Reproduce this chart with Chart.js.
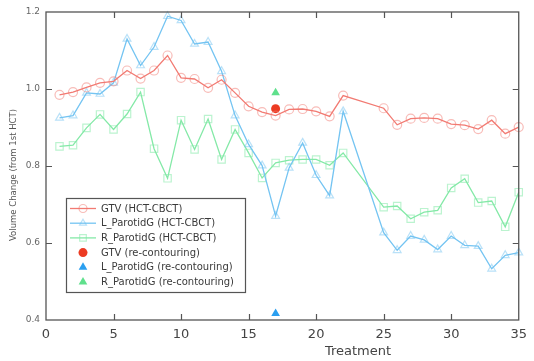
<!DOCTYPE html>
<html>
<head>
<meta charset="utf-8">
<script src="https://cdn.jsdelivr.net/npm/chart.js@4/dist/chart.umd.min.js"></script>
<style>
    html, body { margin: 0; padding: 0; background: #fff; }
    #wrap { width: 534px; height: 361px; }
</style>
</head>
<body>
<div id="wrap"><canvas id="volumeChart" width="534" height="361"></canvas></div>
<script>
// treatment fractions (no CBCT at 23, 24)
const treatments = [1, 2, 3, 4, 5, 6, 7, 8, 9, 10, 11, 12, 13, 14, 15, 16, 17, 18, 19, 20, 21, 22,
    25, 26, 27, 28, 29, 30, 31, 32, 33, 34, 35];

const gtv = [0.985, 0.992, 1.004, 1.016, 1.020, 1.048, 1.027, 1.048, 1.087, 1.029, 1.026, 1.003,
    1.024, 0.990, 0.955, 0.940, 0.931, 0.947, 0.948, 0.942, 0.929, 0.983,
    0.950, 0.907, 0.923, 0.925, 0.923, 0.909, 0.906, 0.896, 0.919, 0.884, 0.901];

const lParotid = [0.925, 0.931, 0.990, 0.987, 1.016, 1.130, 1.061, 1.109, 1.189, 1.178, 1.117, 1.122,
    1.046, 0.931, 0.856, 0.801, 0.670, 0.795, 0.860, 0.776, 0.723, 0.942,
    0.627, 0.581, 0.618, 0.608, 0.583, 0.618, 0.594, 0.592, 0.533, 0.568, 0.575];

const rParotid = [0.851, 0.854, 0.899, 0.934, 0.895, 0.935, 0.992, 0.845, 0.768, 0.919, 0.843, 0.922,
    0.817, 0.895, 0.834, 0.769, 0.808, 0.815, 0.817, 0.817, 0.802, 0.834,
    0.693, 0.696, 0.663, 0.680, 0.685, 0.743, 0.767, 0.705, 0.709, 0.642, 0.732];

// re-contouring at fraction 17
const recontourX = 17;
const gtvRecontour = 0.949;
const lParotidRecontour = 0.417;
const rParotidRecontour = 0.990;

const xTicks = [0, 5, 10, 15, 20, 25, 30, 35];
const yTicks = [0.4, 0.6, 0.8, 1.0, 1.2];

const FONT = '"DejaVu Sans", Verdana, sans-serif';

function toPoints(values) {
    return treatments.map((t, i) => ({ x: t, y: values[i] }));
}

const seriesStyles = [
    { label: 'GTV (HCT-CBCT)', line: '#f27a72', marker: 'rgba(242,122,114,0.5)', style: 'circle', radius: 4.5 },
    { label: 'L_ParotidG (HCT-CBCT)', line: '#74c4f2', marker: 'rgba(116,196,242,0.5)', style: 'triangle', radius: 4.5 },
    { label: 'R_ParotidG (HCT-CBCT)', line: '#84e9a7', marker: 'rgba(132,233,167,0.55)', style: 'rect', radius: 5.2 },
    { label: 'GTV (re-contouring)', fill: '#ec3b22', style: 'circle', radius: 4.5 },
    { label: 'L_ParotidG (re-contouring)', fill: '#2a9ff0', style: 'triangle', radius: 5 },
    { label: 'R_ParotidG (re-contouring)', fill: '#5fe08c', style: 'triangle', radius: 5 }
];

function lineDataset(idx, values) {
    const s = seriesStyles[idx];
    return {
        label: s.label,
        data: toPoints(values),
        borderColor: s.line,
        borderWidth: 1.3,
        pointStyle: s.style,
        pointRadius: s.radius,
        pointBorderColor: s.marker,
        pointBackgroundColor: 'rgba(0,0,0,0)',
        pointBorderWidth: 1.2,
        tension: 0,
        clip: false
    };
}

function markerDataset(idx, value) {
    const s = seriesStyles[idx];
    return {
        label: s.label,
        data: [{ x: recontourX, y: value }],
        showLine: false,
        pointStyle: s.style,
        pointRadius: s.radius,
        pointBackgroundColor: s.fill,
        pointBorderColor: s.fill,
        pointBorderWidth: 0,
        clip: false
    };
}

const framePlugin = {
    id: 'frame',
    afterDraw(chart) {
        const ctx = chart.ctx;
        const area = chart.chartArea;
        const xs = chart.scales.x;
        const ys = chart.scales.y;
        ctx.save();
        ctx.strokeStyle = '#555';
        ctx.lineWidth = 1.3;
        ctx.strokeRect(area.left, area.top, area.right - area.left, area.bottom - area.top);

        // inward ticks
        ctx.lineWidth = 1.2;
        ctx.beginPath();
        xTicks.slice(1, -1).forEach(v => {
            const px = Math.round(xs.getPixelForValue(v)) + 0.5;
            ctx.moveTo(px, area.bottom); ctx.lineTo(px, area.bottom - 6);
            ctx.moveTo(px, area.top); ctx.lineTo(px, area.top + 6);
        });
        yTicks.slice(1, -1).forEach(v => {
            const py = Math.round(ys.getPixelForValue(v)) + 0.5;
            ctx.moveTo(area.left, py); ctx.lineTo(area.left + 6, py);
            ctx.moveTo(area.right, py); ctx.lineTo(area.right - 6, py);
        });
        ctx.stroke();

        // axis titles
        ctx.fillStyle = '#444';
        ctx.font = '13px ' + FONT;
        ctx.textAlign = 'center';
        ctx.textBaseline = 'middle';
        ctx.fillText('Treatment', 358, 352);

        ctx.save();
        ctx.translate(14, 175);
        ctx.rotate(-Math.PI / 2);
        ctx.font = '8.5px ' + FONT;
        ctx.fillStyle = '#555';
        ctx.fillText('Volume Change (from 1st HCT)', 0, 0);
        ctx.restore();

        // legend box
        const box = { x: 66.5, y: 198.5, w: 179, h: 94 };
        ctx.fillStyle = '#fff';
        ctx.fillRect(box.x, box.y, box.w, box.h);
        ctx.strokeStyle = '#555';
        ctx.lineWidth = 1.2;
        ctx.strokeRect(box.x, box.y, box.w, box.h);

        ctx.font = '10px ' + FONT;
        ctx.textAlign = 'left';
        seriesStyles.forEach((s, i) => {
            const cy = 208.5 + i * 14.7;
            if (s.line) {
                ctx.strokeStyle = s.line;
                ctx.lineWidth = 1.3;
                ctx.beginPath();
                ctx.moveTo(70, cy); ctx.lineTo(96, cy);
                ctx.stroke();
                ctx.strokeStyle = s.marker;
                ctx.fillStyle = 'rgba(0,0,0,0)';
                ctx.lineWidth = 1.2;
                Chart.helpers.drawPoint(ctx, { pointStyle: s.style, radius: s.radius - 0.5, borderWidth: 1.2, rotation: 0 }, 83, cy);
            } else {
                ctx.fillStyle = s.fill;
                ctx.strokeStyle = s.fill;
                ctx.lineWidth = 0;
                Chart.helpers.drawPoint(ctx, { pointStyle: s.style, radius: s.radius, borderWidth: 0, rotation: 0 }, 83, cy);
            }
            ctx.fillStyle = '#3a3a3a';
            ctx.fillText(s.label, 101, cy + 0.5);
        });
        ctx.restore();
    }
};

document.addEventListener('DOMContentLoaded', function() {
    const ctx = document.getElementById('volumeChart').getContext('2d');
    window.volumeChart = new Chart(ctx, {
        type: 'line',
        data: {
            datasets: [
                lineDataset(0, gtv),
                lineDataset(1, lParotid),
                lineDataset(2, rParotid),
                markerDataset(3, gtvRecontour),
                markerDataset(4, lParotidRecontour),
                markerDataset(5, rParotidRecontour)
            ]
        },
        options: {
            responsive: false,
            animation: false,
            layout: { padding: { top: 12, right: 7, left: 0, bottom: 0 } },
            plugins: {
                legend: { display: false },
                tooltip: { enabled: false }
            },
            scales: {
                x: {
                    type: 'linear',
                    min: 0,
                    max: 35,
                    afterFit: function(scale) { scale.height = 41; },
                    afterBuildTicks: function(scale) { scale.ticks = xTicks.map(v => ({ value: v })); },
                    grid: { display: false, drawTicks: false },
                    border: { display: false },
                    ticks: {
                        padding: 7,
                        color: '#444',
                        font: { family: FONT, size: 13 },
                        maxRotation: 0
                    }
                },
                y: {
                    min: 0.4,
                    max: 1.2,
                    afterFit: function(scale) { scale.width = 46; },
                    afterBuildTicks: function(scale) { scale.ticks = yTicks.map(v => ({ value: v })); },
                    grid: { display: false, drawTicks: false },
                    border: { display: false },
                    ticks: {
                        padding: 6,
                        color: '#666',
                        font: { family: FONT, size: 9 },
                        callback: function(value) { return value.toFixed(1); }
                    }
                }
            }
        },
        plugins: [framePlugin]
    });
});
</script>
</body>
</html>
